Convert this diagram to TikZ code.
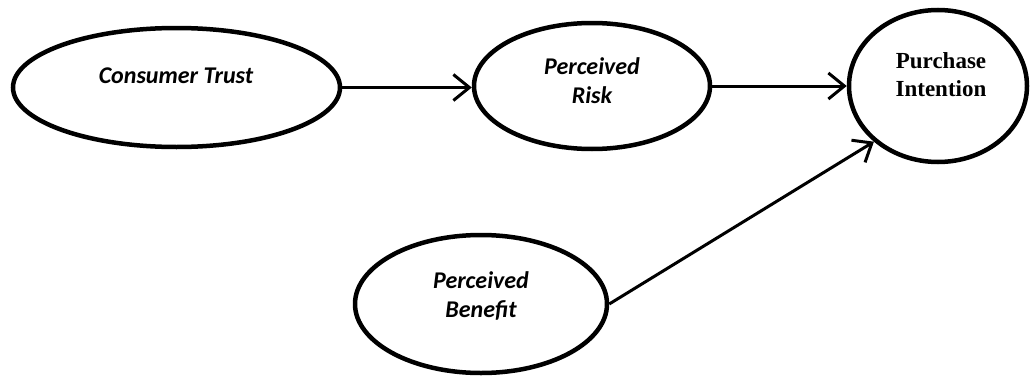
\documentclass[tikz,border=0pt]{standalone}
\usepackage{fontspec}
\setmainfont{Carlito}
\newfontfamily\serifbold{Liberation Serif}
\usetikzlibrary{shapes.geometric,arrows.meta}
\begin{document}
\begin{tikzpicture}[x=1pt,y=1pt,
  oval/.style={ellipse,draw=black,line width=4.5pt,inner sep=0pt},
  lab/.style={align=center,font=\fontsize{24}{29}\selectfont\bfseries\itshape},
  conn/.style={line width=3pt,-{Straight Barb[length=16pt,width=26pt,line width=3pt]}}]
\useasboundingbox (0,0) rectangle (1031,376);
\node[oval,minimum width=327pt,minimum height=119pt] (ct) at (176.5,288.5) {};
\node[oval,minimum width=236pt,minimum height=126pt] (pr) at (592,290) {};
\node[oval,minimum width=178pt,minimum height=152pt] (pi) at (938,290) {};
\node[oval,minimum width=252pt,minimum height=138pt] (pb) at (481,72) {};
\node[lab] (tct) at (176,300) {Consumer Trust};
\node[lab] (tpr) at (592,295) {Perceived\\Risk};
\node[lab] (tpb) at (481,80) {Perceived\\Benefit};
\node[align=center,font=\fontsize{23}{28}\selectfont\serifbold\bfseries] (tpi) at (941,301) {Purchase\\Intention};
\draw[conn] (ct.east) -- (ct.east -| pr.west);
\draw[conn] (pr.east) -- (pr.east -| pi.west);
\draw[conn] (pb.east) -- (pi.221);
\end{tikzpicture}
\end{document}
